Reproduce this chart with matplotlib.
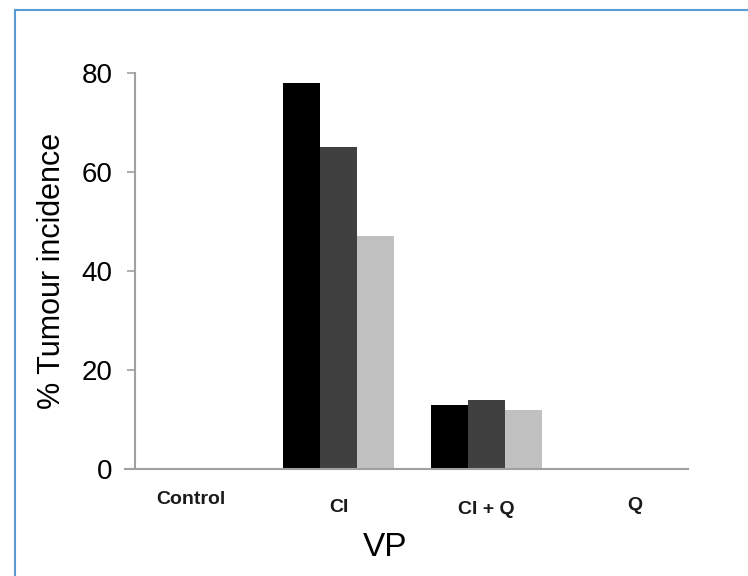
import matplotlib
matplotlib.use("Agg")
import matplotlib.pyplot as plt
import matplotlib.transforms as mtransforms
from matplotlib.lines import Line2D
import numpy as np

categories = ["Control", "CI", "CI + Q", "Q"]
series1 = [0, 78, 13, 0]
series2 = [0, 65, 14, 0]
series3 = [0, 47, 12, 0]
yticks = [0, 20, 40, 60, 80]

colors = ["#000000", "#404040", "#C0C0C0"]
label_offsets_px = [31, 39, 40, 36]

plt.rcParams["font.family"] = ["Liberation Sans", "DejaVu Sans"]

fig = plt.figure(figsize=(7.48, 5.76), dpi=100)
ax = fig.add_axes([125 / 748, (576 - 469) / 576, 563 / 748, 396 / 576])

x = np.arange(len(categories))
w = 0.25
for i, (vals, c) in enumerate(zip([series1, series2, series3], colors)):
    ax.bar(x + (i - 1) * w, vals, width=w, color=c, edgecolor="none")

ax.set_xlim(-0.445, 3.36)
ax.set_ylim(0, 80)
ax.set_yticks(yticks, [str(t) for t in yticks])
ax.spines["top"].set_visible(False)
ax.spines["right"].set_visible(False)
ax.spines["left"].set_position(("data", -0.38))
for s in ["left", "bottom"]:
    ax.spines[s].set_color("#A0A0A0")
    ax.spines[s].set_linewidth(1.5)
ax.tick_params(axis="y", direction="out", length=6, width=1.2, color="#A0A0A0",
               pad=10, labelsize=20)
ax.set_xticks([])

trans = mtransforms.blended_transform_factory(ax.transData, ax.transAxes)
for xi, lab, off in zip(x, categories, label_offsets_px):
    t = trans + mtransforms.ScaledTranslation(0, -off / 100, fig.dpi_scale_trans)
    ax.text(xi, 0, lab, transform=t, ha="center", va="center", fontsize=14,
            fontweight="bold", color="#1a1a1a")

ax.set_ylabel("% Tumour incidence", fontsize=22)
ax.yaxis.set_label_coords((52 - 125) / 563, 0.5)
ax.yaxis.label.set_va("center")
ax.set_xlabel("VP", fontsize=24)
ax.xaxis.set_label_coords((385 - 125) / 563, (469 - 548) / 396)
ax.xaxis.label.set_va("center")

# outer border (blue)
bc = "#5B9BD5"
fig.add_artist(Line2D([14.5 / 748, 1], [1 - 10 / 576, 1 - 10 / 576], color=bc, lw=1.5, transform=fig.transFigure))
fig.add_artist(Line2D([14.5 / 748, 14.5 / 748], [0, 1 - 10 / 576], color=bc, lw=1.5, transform=fig.transFigure))

fig.savefig("out.png", dpi=100)
